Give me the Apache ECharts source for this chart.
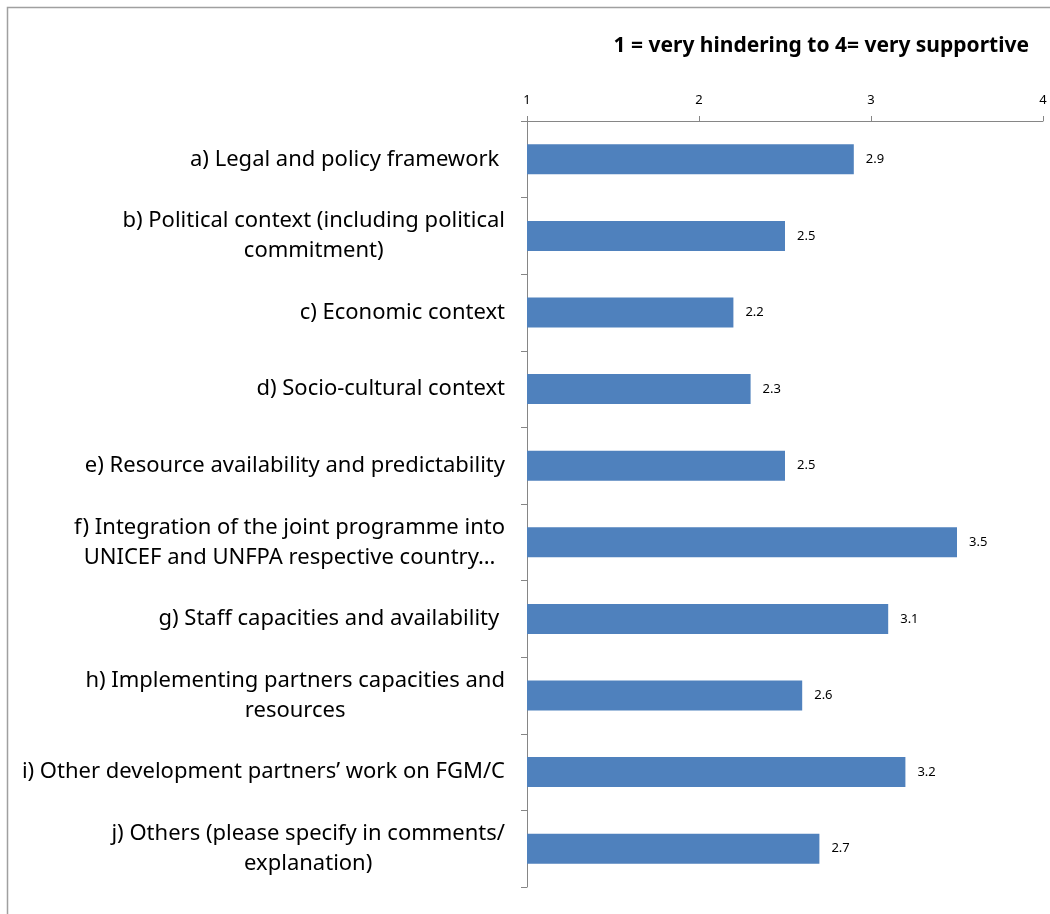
<!DOCTYPE html>
<html>
<head>
<meta charset="utf-8">
<script src="https://cdn.jsdelivr.net/npm/echarts@6/dist/echarts.min.js"></script>
<style>
  html, body { margin: 0; padding: 0; background: #fff; }
  #myChart { width: 1050px; height: 914px; }
</style>
</head>
<body>
<div id="myChart"></div>
<script>
// categories, top to bottom
var categories = [
    'a) Legal and policy framework ',
    'b) Political context (including political\ncommitment)',
    'c) Economic context',
    'd) Socio-cultural context',
    'e) Resource availability and predictability',
    'f) Integration of the joint programme into\nUNICEF and UNFPA respective country…',
    'g) Staff capacities and availability ',
    'h) Implementing partners capacities and\nresources',
    'i) Other development partners’ work on FGM/C',
    'j) Others (please specify in comments/\nexplanation)'
];
var scores = [2.9, 2.5, 2.2, 2.3, 2.5, 3.5, 3.1, 2.6, 3.2, 2.7];
var ticks = [1, 2, 3, 4];
var titleText = '1 = very hindering to 4= very supportive';

var labelFont = '"Noto Sans", "Liberation Sans", sans-serif';
var myChart = echarts.init(document.getElementById('myChart'));

myChart.setOption({
    animation: false,
    textStyle: { fontFamily: labelFont },
    title: {
        text: titleText,
        right: 16,
        top: 31,
        textStyle: { fontSize: 21, fontWeight: 'bold', color: '#000', fontFamily: labelFont }
    },
    graphic: [{
        type: 'rect',
        shape: { x: 7.5, y: 7.5, width: 1200, height: 1200 },
        style: { fill: 'none', stroke: '#a0a0a0', lineWidth: 1.5 },
        silent: true
    }],
    grid: { left: 527, right: 7, top: 121, bottom: 27 },
    xAxis: {
        type: 'value',
        position: 'top',
        min: ticks[0],
        max: ticks[ticks.length - 1],
        interval: 1,
        splitLine: { show: false },
        axisLine: { show: true, lineStyle: { color: '#868686', width: 1 } },
        axisTick: { show: true, length: 5, lineStyle: { color: '#868686' } },
        axisLabel: { fontSize: 13, color: '#000', margin: 14 }
    },
    yAxis: {
        type: 'category',
        inverse: true,
        data: categories,
        axisLine: { show: true, lineStyle: { color: '#868686', width: 1 } },
        axisTick: { show: true, interval: 0, length: 6, lineStyle: { color: '#868686' } },
        axisLabel: {
            interval: 0,
            margin: 22,
            fontSize: 22,
            lineHeight: 30,
            color: '#000',
            formatter: function (v) { return '{c|' + v + '}'; },
            rich: {
                c: { align: 'center', fontSize: 22, lineHeight: 30, color: '#000', fontFamily: labelFont }
            }
        }
    },
    series: [{
        type: 'bar',
        data: scores,
        barWidth: 30,
        itemStyle: { color: '#4f81bd' },
        label: {
            show: true,
            position: 'right',
            distance: 12,
            fontSize: 13,
            color: '#000',
            formatter: function (p) { return p.value.toFixed(1); }
        }
    }]
});
</script>
</body>
</html>
